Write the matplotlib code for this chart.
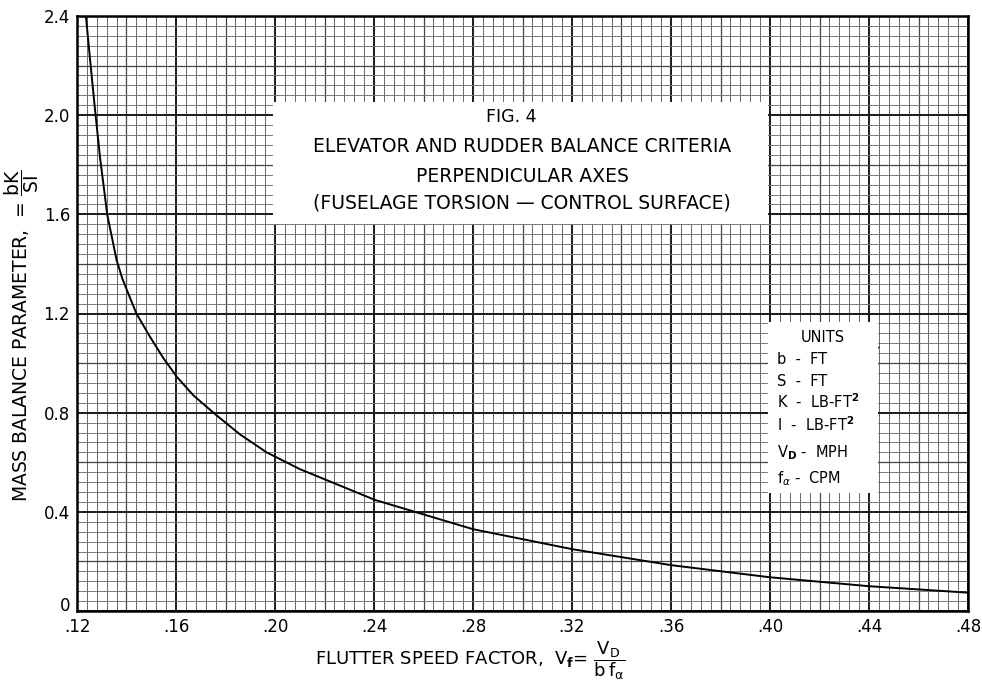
import matplotlib
matplotlib.use('Agg')
import matplotlib.pyplot as plt
import numpy as np
from matplotlib.patches import Rectangle
from matplotlib.transforms import ScaledTranslation

plt.rcParams['font.family'] = ['DejaVu Sans']
plt.rcParams['mathtext.fontset'] = 'dejavusans'

# Curve (flutter speed factor vs mass balance parameter)
speed_factor = [0.1236, 0.1253, 0.1273, 0.1293, 0.1322, 0.1360, 0.13835, 0.1407,
                0.1440, 0.1495, 0.1549, 0.1603, 0.1670, 0.1758, 0.1859, 0.1966,
                0.2101, 0.2404, 0.2800, 0.3203, 0.3600, 0.4000, 0.4400, 0.4800]
mass_balance = [2.400, 2.222, 2.020, 1.830, 1.600, 1.415, 1.340, 1.281,
                1.200, 1.106, 1.020, 0.945, 0.870, 0.794, 0.712, 0.640,
                0.572, 0.448, 0.330, 0.249, 0.185, 0.136, 0.100, 0.074]

x_ticks = [0.12, 0.16, 0.20, 0.24, 0.28, 0.32, 0.36, 0.40, 0.44, 0.48]
x_labels = ['.12', '.16', '.20', '.24', '.28', '.32', '.36', '.40', '.44', '.48']
y_ticks = [0, 0.4, 0.8, 1.2, 1.6, 2.0, 2.4]
y_labels = ['0', '0.4', '0.8', '1.2', '1.6', '2.0', '2.4']

units = ['b  -  FT', 'S  -  FT', r'K  -  LB-FT$^{\mathbf{2}}$', r'I  -  LB-FT$^{\mathbf{2}}$',
         r'V$_{\mathbf{D}}$ -  MPH', r'f$_{\alpha}$ -  CPM']

W, H = 982, 681
fig = plt.figure(figsize=(W / 100, H / 100), dpi=100, facecolor='white')
ax = fig.add_axes([77 / W, 70 / H, 891 / W, 595 / H])


def px(x, y):
    # pixel position (from top-left) to figure fraction
    return x / W, 1 - y / H


# graph paper grid
for k in range(91):
    xv = 0.12 + k * 0.004
    if k % 10 == 0:
        lw, c = 1.4, '#1a1a1a'
    elif k % 5 == 0:
        lw, c = 0.9, '#444444'
    else:
        lw, c = 0.7, '#666666'
    ax.axvline(xv, color=c, lw=lw, zorder=1)
for k in range(61):
    yv = k * 0.04
    if k % 10 == 0:
        lw, c = 1.4, '#1a1a1a'
    elif k % 5 == 0:
        lw, c = 0.9, '#444444'
    else:
        lw, c = 0.7, '#777777'
    ax.axhline(yv, color=c, lw=lw, zorder=1)

ax.plot(speed_factor, mass_balance, color='black', lw=1.4, zorder=4)

ax.set_xlim(0.12, 0.48)
ax.set_ylim(0, 2.4)

for s in ax.spines.values():
    s.set_linewidth(1.8)
    s.set_color('black')
ax.tick_params(length=0, labelsize=12, pad=5)
ax.set_xticks(x_ticks)
ax.set_xticklabels(x_labels)
ax.set_yticks(y_ticks)
ax.set_yticklabels(y_labels)
# the zero sits a little above the bottom edge, clear of ".12"
zero_lbl = ax.yaxis.get_majorticklabels()[0]
zero_lbl.set_transform(zero_lbl.get_transform() + ScaledTranslation(0, 5 / 72, fig.dpi_scale_trans))

# title box
fig.patches.append(Rectangle((273, H - 224), 495, 122, transform=None,
                             facecolor='white', edgecolor='none', zorder=2))
fig.text(*px(511, 117), 'FIG. 4', ha='center', va='center', fontsize=12.5)
fig.add_artist(plt.Line2D([472 / W, 550 / W], [1 - 128 / H, 1 - 128 / H],
                          color='black', lw=1.3))
fig.text(*px(522, 146), 'ELEVATOR AND RUDDER BALANCE CRITERIA', ha='center',
         va='center', fontsize=13.5)
fig.text(*px(522, 176), 'PERPENDICULAR AXES', ha='center', va='center', fontsize=13.5)
fig.text(*px(522, 203), '(FUSELAGE TORSION \u2014 CONTROL SURFACE)', ha='center',
         va='center', fontsize=13.5)

# units box
fig.patches.append(Rectangle((768, H - 493), 110, 171, transform=None,
                             facecolor='white', edgecolor='none', zorder=2))
fig.text(*px(823, 337), 'UNITS', ha='center', va='center', fontsize=10.5)
fig.add_artist(plt.Line2D([770 / W, 878 / W], [1 - 347 / H, 1 - 347 / H],
                          color='black', lw=1.0))
unit_y = [359, 381, 402, 425, 453, 479]
for txt, yy in zip(units, unit_y):
    fig.text(*px(777, yy), txt, ha='left', va='center', fontsize=10.5)

fig.text(*px(470, 661),
         r'FLUTTER SPEED FACTOR,  V$_{\mathbf{f}}$= $\dfrac{\mathrm{V_D}}{\mathrm{b\,f_{\alpha}}}$',
         ha='center', va='center', fontsize=13)
fig.text(*px(22, 335),
         r'MASS BALANCE PARAMETER,  = $\dfrac{\mathrm{bK}}{\mathrm{SI}}$',
         ha='center', va='center', rotation=90, fontsize=13.5)

fig.savefig('out.png', dpi=100, facecolor='white')
